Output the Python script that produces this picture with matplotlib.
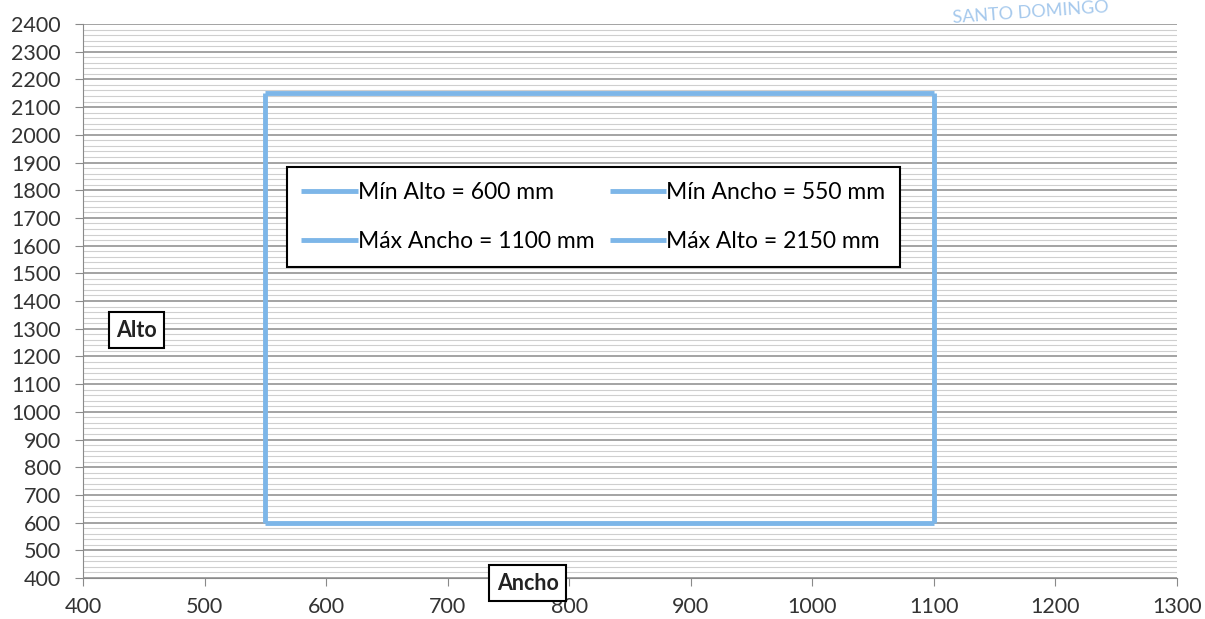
import matplotlib.pyplot as plt
from matplotlib.ticker import MultipleLocator

plt.rcParams['font.family'] = ['Lato', 'DejaVu Sans']

# limites (mm)
min_alto = 600
max_alto = 2150
min_ancho = 550
max_ancho = 1100

series_labels = ['Mín Alto = 600 mm', 'Máx Ancho = 1100 mm',
                 'Mín Ancho = 550 mm', 'Máx Alto = 2150 mm']
series_x = [[min_ancho, max_ancho], [max_ancho, max_ancho],
            [min_ancho, min_ancho], [min_ancho, max_ancho]]
series_y = [[min_alto, min_alto], [min_alto, max_alto],
            [min_alto, max_alto], [max_alto, max_alto]]

x_ticks = list(range(400, 1301, 100))
y_ticks = list(range(400, 2401, 100))

blue = '#7db6e8'

fig = plt.figure(figsize=(12.05, 6.19), dpi=100)
ax = fig.add_axes([0.0689, 0.0662, 0.9079, 0.895])

ax.set_xlim(400, 1300)
ax.set_ylim(400, 2400)
ax.set_xticks(x_ticks)
ax.set_yticks(y_ticks)
ax.yaxis.set_minor_locator(MultipleLocator(20))
ax.grid(axis='y', which='major', color='#8a8a8a', lw=1.1)
ax.grid(axis='y', which='minor', color='#cfcfcf', lw=0.8)
ax.set_axisbelow(True)

for xs, ys, lab in zip(series_x, series_y, series_labels):
    ax.plot(xs, ys, color=blue, lw=3.5, label=lab, solid_capstyle='butt')

for s in ['top', 'right']:
    ax.spines[s].set_visible(False)
for s in ['left', 'bottom']:
    ax.spines[s].set_color('#8a8a8a')
ax.tick_params(axis='both', which='major', length=6, color='#8a8a8a',
               labelsize=15.5, labelcolor='#333333')
ax.tick_params(axis='y', which='minor', length=0)
ax.tick_params(axis='y', pad=10)
ax.tick_params(axis='x', pad=8)

leg = ax.legend(ncol=2, loc='upper left', bbox_to_anchor=(0.186, 0.742),
                fontsize=16.5, frameon=True, fancybox=False, handlelength=2.45,
                handletextpad=0.0, columnspacing=0.7, borderpad=0.65,
                labelspacing=1.25, framealpha=1, borderaxespad=0)
leg.get_frame().set_edgecolor('black')
leg.get_frame().set_linewidth(1.5)

box = dict(boxstyle='square,pad=0.35', fc='white', ec='black', lw=1.5)
ax.text(444, 1295, 'Alto', fontsize=15.5, fontweight='bold', ha='center',
        va='center', bbox=box, color='#222222')
ax.text(766, 381, 'Ancho', fontsize=15.5, fontweight='bold', ha='center',
        va='center', bbox=box, color='#222222', clip_on=False)

fig.text(0.855, 0.98, 'SANTO DOMINGO', color='#8fbbe8', fontsize=13,
         rotation=4, ha='center', va='center', alpha=0.8)

fig.savefig('out.png', dpi=100)
